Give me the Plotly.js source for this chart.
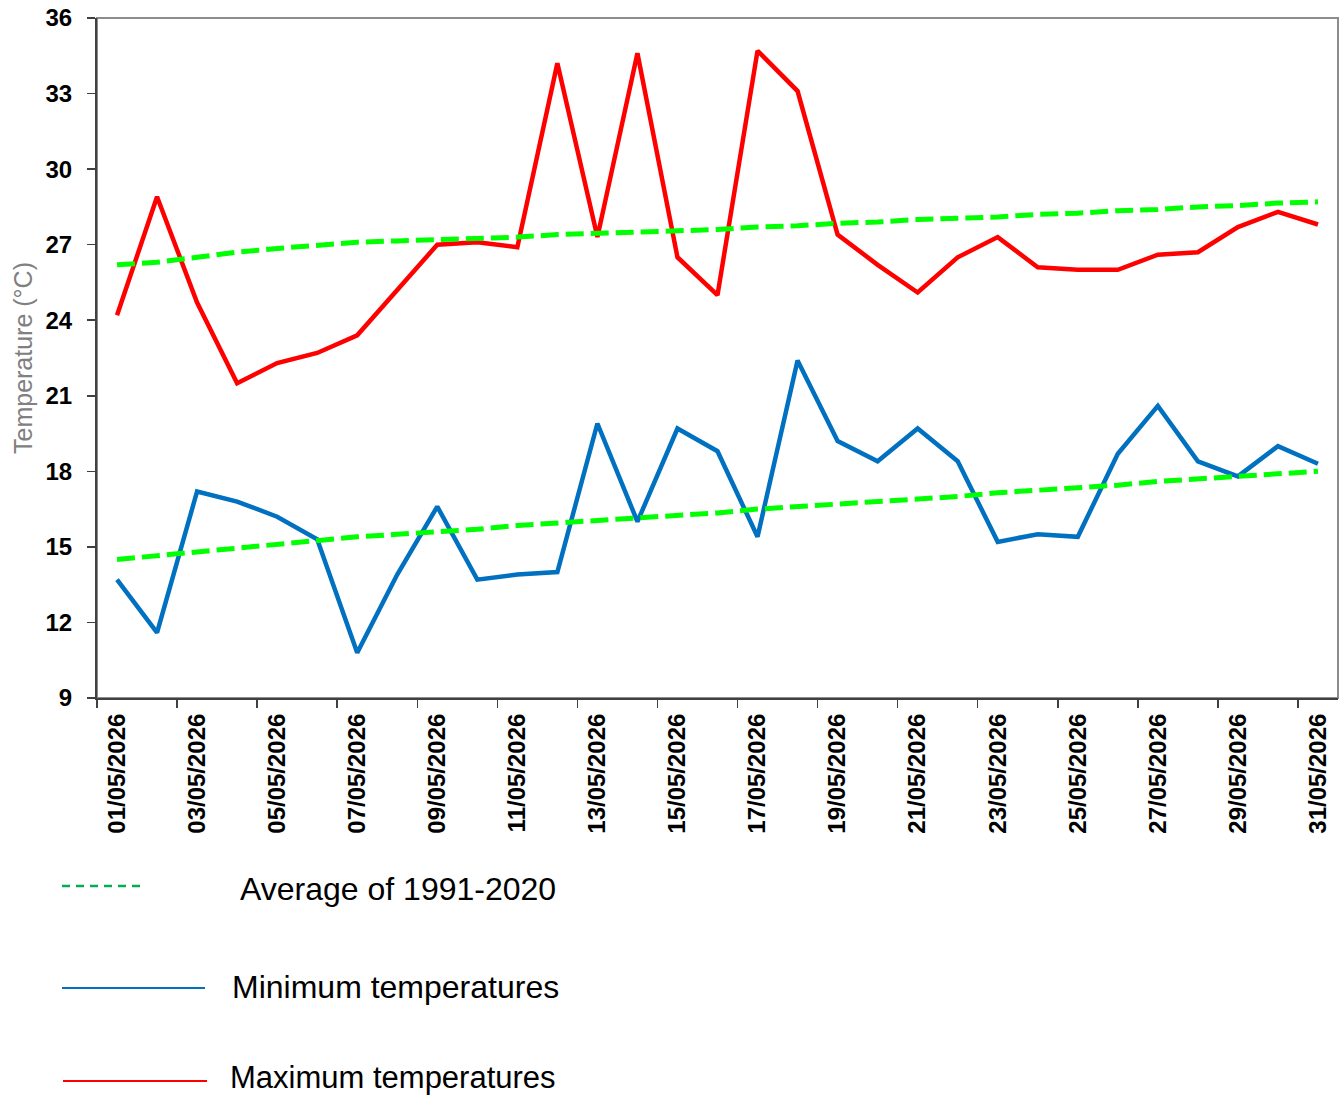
<!DOCTYPE html>
<html>
<head>
<meta charset="utf-8">
<script src="https://cdn.plot.ly/plotly-3.0.1.min.js"></script>
<style>
  html, body { margin: 0; padding: 0; background: #ffffff; }
  #chart { width: 1340px; height: 1097px; }
</style>
</head>
<body>
<div id="chart"></div>
<script>
// ---- data ----
var dates = [
  "01/05/2026", "02/05/2026", "03/05/2026", "04/05/2026", "05/05/2026",
  "06/05/2026", "07/05/2026", "08/05/2026", "09/05/2026", "10/05/2026",
  "11/05/2026", "12/05/2026", "13/05/2026", "14/05/2026", "15/05/2026",
  "16/05/2026", "17/05/2026", "18/05/2026", "19/05/2026", "20/05/2026",
  "21/05/2026", "22/05/2026", "23/05/2026", "24/05/2026", "25/05/2026",
  "26/05/2026", "27/05/2026", "28/05/2026", "29/05/2026", "30/05/2026",
  "31/05/2026"
];
var maxTemps = [24.2, 28.9, 24.7, 21.5, 22.3, 22.7, 23.4, 25.2, 27.0, 27.1,
                26.9, 34.2, 27.3, 34.6, 26.5, 25.0, 34.7, 33.1, 27.4, 26.2,
                25.1, 26.5, 27.3, 26.1, 26.0, 26.0, 26.6, 26.7, 27.7, 28.3, 27.8];
var minTemps = [13.7, 11.6, 17.2, 16.8, 16.2, 15.3, 10.8, 13.9, 16.6, 13.7,
                13.9, 14.0, 19.9, 16.0, 19.7, 18.8, 15.4, 22.4, 19.2, 18.4,
                19.7, 18.4, 15.2, 15.5, 15.4, 18.7, 20.6, 18.4, 17.8, 19.0, 18.3];
var avgMaxNormal = [26.2, 26.3, 26.5, 26.7, 26.85, 27.0, 27.1, 27.15, 27.2, 27.25,
                    27.3, 27.4, 27.45, 27.5, 27.55, 27.6, 27.7, 27.75, 27.85, 27.9,
                    28.0, 28.05, 28.1, 28.2, 28.25, 28.35, 28.4, 28.5, 28.55, 28.65, 28.7];
var avgMinNormal = [14.5, 14.65, 14.8, 14.95, 15.1, 15.25, 15.4, 15.5, 15.6, 15.7,
                    15.85, 15.95, 16.05, 16.15, 16.25, 16.35, 16.5, 16.6, 16.7, 16.8,
                    16.9, 17.0, 17.15, 17.25, 17.35, 17.45, 17.6, 17.7, 17.8, 17.9, 18.0];
var yTicks = [9, 12, 15, 18, 21, 24, 27, 30, 33, 36];
var legendLabels = ["Average of 1991-2020", "Minimum temperatures", "Maximum temperatures"];

// ---- styling ----
var FONT = "Liberation Sans, Arial, sans-serif";
var C_MAX = "#FF0000", C_MIN = "#0070C0", C_AVG = "#00FF00", C_AVG_KEY = "#00B050";

var traces = [
  { x: dates, y: maxTemps, type: "scatter", mode: "lines", name: legendLabels[2],
    line: { color: C_MAX, width: 4.5 }, showlegend: false, hoverinfo: "x+y" },
  { x: dates, y: minTemps, type: "scatter", mode: "lines", name: legendLabels[1],
    line: { color: C_MIN, width: 4.5 }, showlegend: false, hoverinfo: "x+y" },
  { x: dates, y: avgMaxNormal, type: "scatter", mode: "lines", name: legendLabels[0],
    line: { color: C_AVG, width: 5, dash: "18px,7px" }, showlegend: false, hoverinfo: "x+y" },
  { x: dates, y: avgMinNormal, type: "scatter", mode: "lines", name: legendLabels[0],
    line: { color: C_AVG, width: 5, dash: "18px,7px" }, showlegend: false, hoverinfo: "x+y" }
];

// plot area in pixels: left 97, right 1338, top 18, bottom 698
var L = 97, R = 1338, T = 18, B = 698;
function px(x) { return (x - L) / (R - L); }
function py(y) { return (B - y) / (B - T); }

var shapes = [
  { type: "rect", xref: "paper", yref: "paper", x0: 0, x1: 1, y0: 0, y1: 1,
    line: { color: "#8c8c8c", width: 2 }, layer: "below" },
  { type: "line", xref: "paper", yref: "paper", x0: px(62), x1: px(146), y0: py(886), y1: py(886),
    line: { color: C_AVG_KEY, width: 2.5, dash: "8px,6px" } },
  { type: "line", xref: "paper", yref: "paper", x0: px(62), x1: px(205), y0: py(988), y1: py(988),
    line: { color: C_MIN, width: 2 } },
  { type: "line", xref: "paper", yref: "paper", x0: px(63), x1: px(207), y0: py(1081), y1: py(1081),
    line: { color: C_MAX, width: 2 } }
];

var annotations = [
  { xref: "paper", yref: "paper", x: px(238), y: py(889), xanchor: "left", yanchor: "middle",
    text: legendLabels[0], showarrow: false, font: { family: FONT, size: 32, color: "#000000" } },
  { xref: "paper", yref: "paper", x: px(230), y: py(987), xanchor: "left", yanchor: "middle",
    text: legendLabels[1], showarrow: false, font: { family: FONT, size: 32, color: "#000000" } },
  { xref: "paper", yref: "paper", x: px(228), y: py(1077), xanchor: "left", yanchor: "middle",
    text: legendLabels[2], showarrow: false, font: { family: FONT, size: 31, color: "#000000" } }
];

var layout = {
  width: 1340, height: 1097,
  margin: { l: L, r: 1340 - R, t: T, b: 1097 - B, pad: 0 },
  paper_bgcolor: "#ffffff", plot_bgcolor: "#ffffff",
  showlegend: false,
  font: { family: FONT, color: "#000000" },
  xaxis: {
    type: "category",
    categoryorder: "array", categoryarray: dates,
    range: [-0.5, dates.length - 0.5],
    tickmode: "linear", tick0: 0, dtick: 2,
    tickson: "boundaries",
    ticks: "outside", ticklen: 8, tickwidth: 1.5, tickcolor: "#404040",
    tickangle: -90,
    ticklabelstandoff: 4,
    tickfont: { family: FONT, size: 24, color: "#000000", weight: "bold" },
    showgrid: false, zeroline: false,
    showline: true, linecolor: "#404040", linewidth: 2,
    fixedrange: true
  },
  yaxis: {
    range: [9, 36],
    tickmode: "array", tickvals: yTicks, ticktext: yTicks.map(String),
    ticks: "outside", ticklen: 8, tickwidth: 1.5, tickcolor: "#404040",
    ticklabelstandoff: 10,
    tickfont: { family: FONT, size: 24, color: "#000000", weight: "bold" },
    showgrid: false, zeroline: false,
    showline: true, linecolor: "#404040", linewidth: 2,
    title: { text: "Temperature (°C)", font: { family: FONT, size: 25, color: "#808080" }, standoff: 6 },
    fixedrange: true
  },
  shapes: shapes,
  annotations: annotations
};

Plotly.newPlot("chart", traces, layout, { displayModeBar: false, staticPlot: true });
</script>
</body>
</html>
